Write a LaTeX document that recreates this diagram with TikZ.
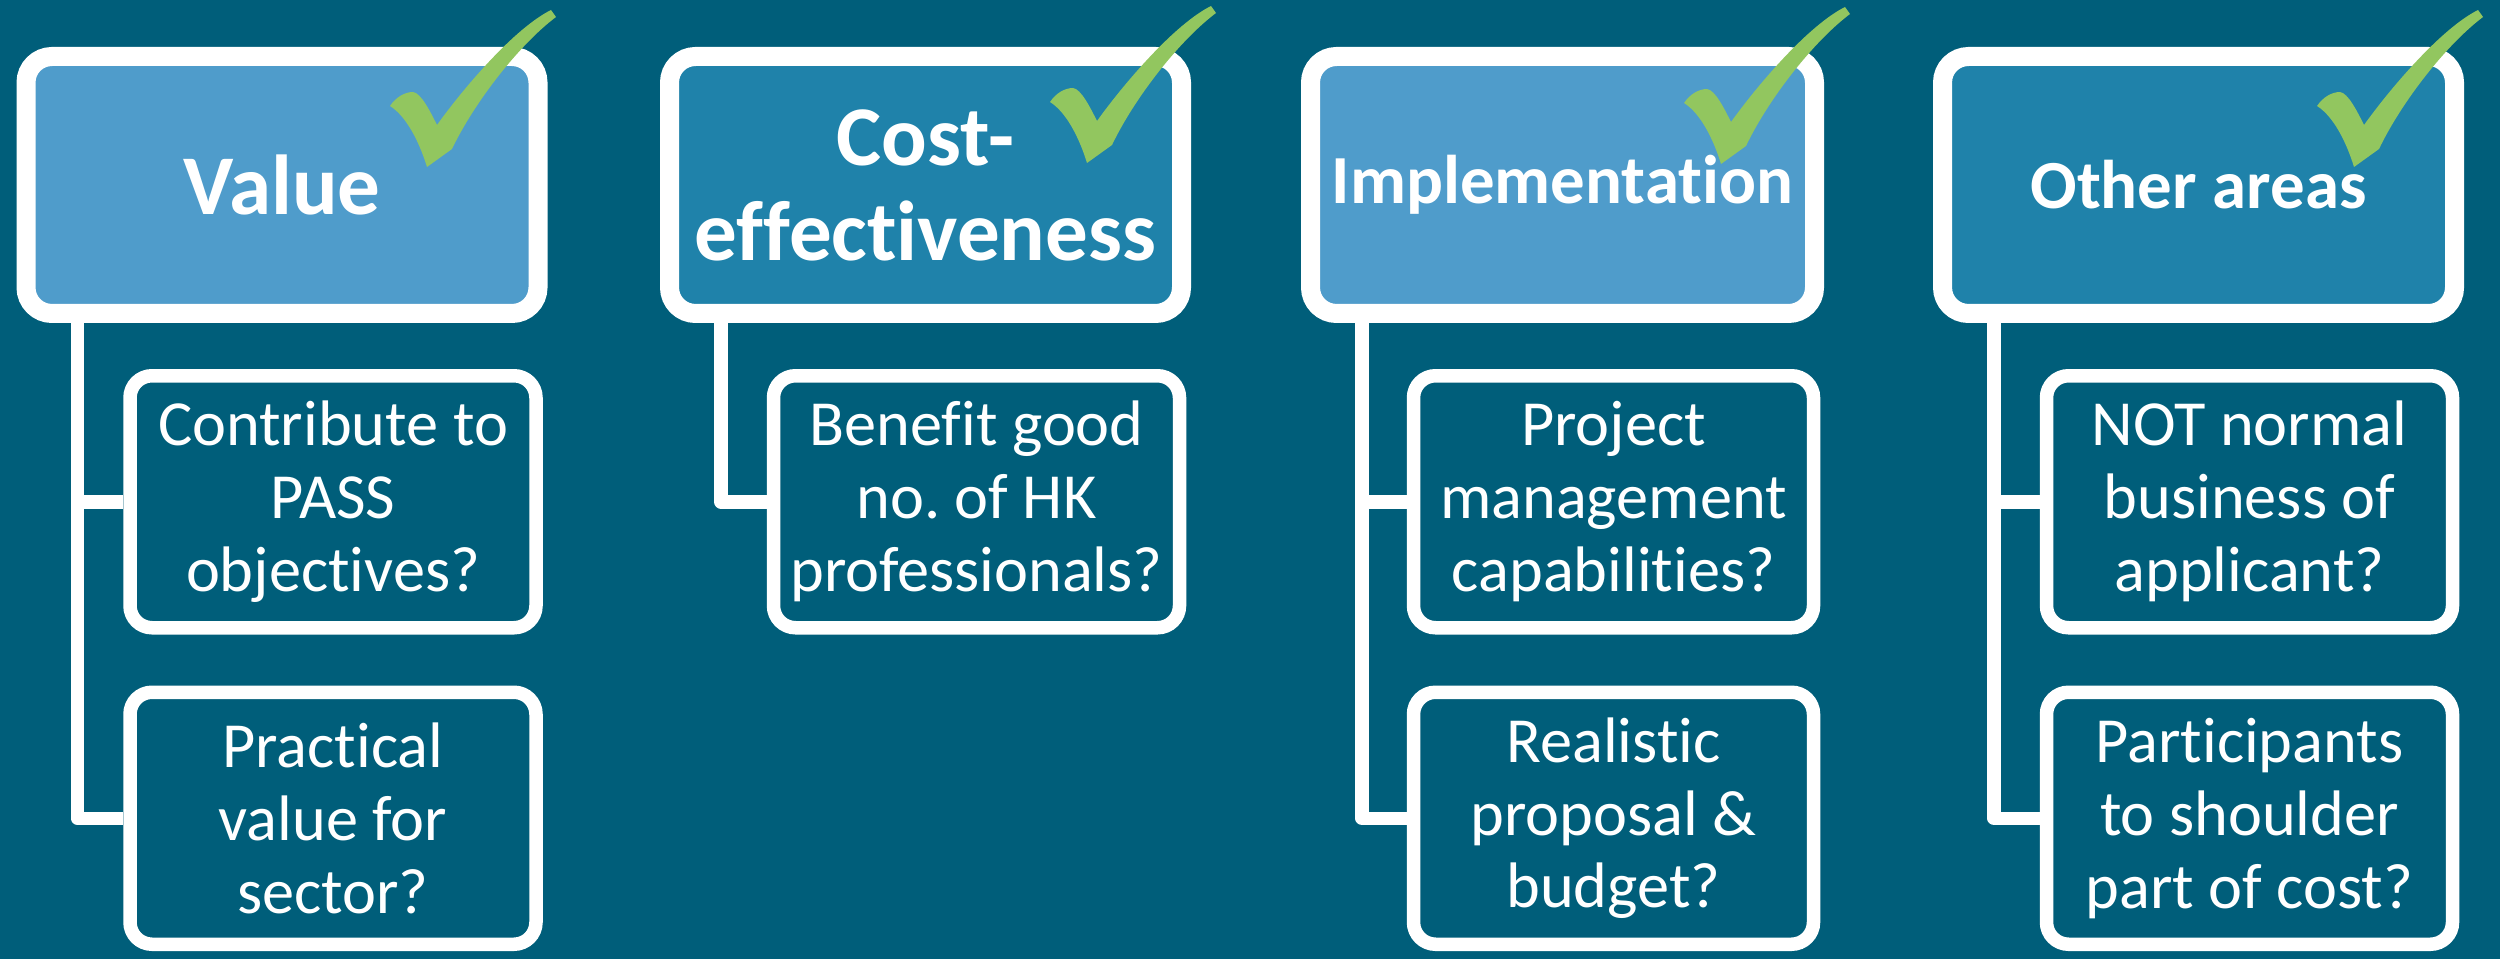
\documentclass[tikz,border=0pt]{standalone}
\usepackage{fontspec}
\setmainfont{Carlito}[Ligatures=NoCommon]
\usepackage{tikz}
\usetikzlibrary{positioning}
\frenchspacing

\definecolor{bgteal}{RGB}{0,94,122}
\definecolor{areablue}{RGB}{79,156,203}
\definecolor{areadark}{RGB}{31,130,170}
\definecolor{tickgreen}{RGB}{146,198,95}

\begin{document}
\begin{tikzpicture}[
    area/.style={rectangle, draw=white, line width=0.19cm, rounded corners=0.26cm, minimum width=5.12cm, minimum height=2.57cm, outer sep=0.095cm, align=center, text=white, font=\fontsize{24.2pt}{27pt}\selectfont\bfseries},
    smallarea/.style={area, font=\fontsize{19.6pt}{23pt}\selectfont\bfseries},
    query/.style={rectangle, draw=white, line width=0.135cm, rounded corners=0.22cm, minimum width=4.06cm, minimum height=2.52cm, outer sep=0.0675cm, inner sep=0pt, align=center, text=white, fill=bgteal, font=\fontsize{18.3pt}{20.75pt}\selectfont},
    link/.style={draw=white, line width=0.135cm, line join=round},
    tick/.pic={
        \fill[tickgreen] (0,0) .. controls (0.06,0.09) and (0.15,0.14) .. (0.23,0.14)
            .. controls (0.31,0.13) and (0.40,-0.05) .. (0.47,-0.19)
            .. controls (0.75,0.20) and (1.25,0.78) .. (1.61,0.96)
            -- (1.66,0.89)
            .. controls (1.30,0.62) and (0.85,0.05) .. (0.62,-0.43)
            -- (0.37,-0.61)
            .. controls (0.29,-0.35) and (0.16,-0.10) .. cycle;
    }
]

\path[use as bounding box, fill=bgteal] (0,0) rectangle (25,-9.59);

\node[area, fill=areablue] (value) at (2.82,-1.85) {Value};
\node[area, fill=areadark] (cost) at (9.255,-1.85) {Cost-\\effectiveness};
\node[smallarea, fill=areablue, minimum width=5.04cm] (impl) at (15.625,-1.85) {Implementation};
\node[smallarea, fill=areadark] (other) at (21.985,-1.85) {Other areas};

\node[query, below=0.46cm of value, xshift=0.51cm] (value1) {Contribute to\\PASS\\objectives?};
\node[query, below=0.51cm of value1] (value2) {Practical\\value for\\sector?};

\node[query, below=0.46cm of cost, xshift=0.51cm] (cost1) {Benefit good\\no. of HK\\professionals?};

\node[query, below=0.46cm of impl, xshift=0.51cm, minimum width=4.0cm] (impl1) {Project\\management\\capabilities?};
\node[query, below=0.51cm of impl1, minimum width=4.0cm] (impl2) {Realistic\\proposal \&\\budget?};

\node[query, below=0.46cm of other, xshift=0.51cm] (other1) {NOT normal\\business of\\applicant?};
\node[query, below=0.51cm of other1] (other2) {Participants\\to shoulder\\part of cost?};

\foreach \trunk/\leaf in {
    value/value1, value/value2,
    cost/cost1,
    impl/impl1, impl/impl2,
    other/other1, other/other2}
    \draw[link] ([xshift=0.61cm]\trunk.south west) |- (\leaf.west);

\foreach \spot in {(3.90,-1.06), (10.50,-1.02), (16.84,-1.03), (23.17,-1.06)}
    \pic at \spot {tick};

\end{tikzpicture}
\end{document}
